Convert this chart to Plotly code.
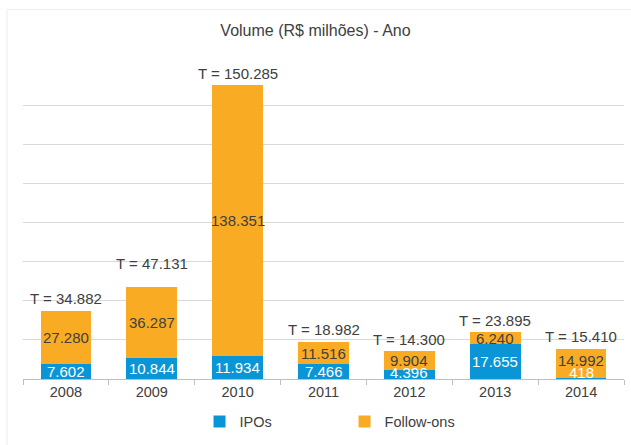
import plotly.graph_objects as go

anos = ["2008", "2009", "2010", "2011", "2012", "2013", "2014"]
ipos = [7602, 10844, 11934, 7466, 4396, 17655, 418]
follow_ons = [27280, 36287, 138351, 11516, 9904, 6240, 14992]
totais = [34882, 47131, 150285, 18982, 14300, 23895, 15410]

BLUE = "#0A96D6"
ORANGE = "#F9AB24"
TXT = "#404040"
FONT = "Liberation Sans, Arial, sans-serif"


def fmt(v):
    return f"{v:,}".replace(",", ".")


fig = go.Figure()
fig.add_trace(go.Bar(x=anos, y=ipos, name="IPOs", marker=dict(color=BLUE, line=dict(width=0))))
fig.add_trace(go.Bar(x=anos, y=follow_ons, name="Follow-ons", marker=dict(color=ORANGE, line=dict(width=0))))

annotations = []
# extra lift (px) for total labels
total_lift = {"2009": 23}
for i, (a, ip, fo, t) in enumerate(zip(anos, ipos, follow_ons, totais)):
    ip_y = max(ip / 2, 3500)
    fo_y = max(ip + fo / 2, ip_y + 6000)
    annotations.append(dict(x=i, y=ip_y, text=fmt(ip), showarrow=False,
                            font=dict(color="white", size=15, family=FONT), yanchor="middle"))
    annotations.append(dict(x=i, y=fo_y, text=fmt(fo), showarrow=False,
                            font=dict(color=TXT, size=15, family=FONT), yanchor="middle"))
    annotations.append(dict(x=i, y=t, text="T = " + fmt(t), showarrow=False,
                            font=dict(color=TXT, size=15, family=FONT), yanchor="middle",
                            yshift=total_lift.get(a, 12)))

fig.update_layout(
    width=631, height=445,
    margin=dict(l=23, r=7, t=66, b=63),
    paper_bgcolor="white", plot_bgcolor="white",
    barmode="stack", bargap=0.41,
    title=dict(text="Volume (R$ milhões) - Ano", x=0.5, xanchor="center", y=1 - 30 / 445, yanchor="middle",
               font=dict(size=16, color=TXT, family=FONT)),
    font=dict(family=FONT, color=TXT, size=14),
    showlegend=True,
    legend=dict(orientation="h", x=0.535, xanchor="center", y=-0.136, yanchor="middle",
                font=dict(size=14.5, color=TXT, family=FONT), entrywidth=100, traceorder="normal"),
    annotations=annotations,
    shapes=[dict(type="rect", xref="paper", yref="paper", x0=(7 - 23) / 601, x1=1.1,
                 y0=-0.3, y1=(382 - 9) / 316, line=dict(color="#ececec", width=1), layer="below")],
)
fig.update_xaxes(type="category", range=[-0.5, len(anos) - 0.5], showline=True, linecolor="#bfbfbf",
                 linewidth=1, ticks="outside", tickson="boundaries", ticklen=5, tickcolor="#bfbfbf",
                 tickfont=dict(size=14.5, color=TXT, family=FONT), showgrid=False)
fig.update_yaxes(range=[0, 160000], dtick=20000, showticklabels=False, gridcolor="#d9d9d9",
                 gridwidth=1, zeroline=False)

fig.write_html("out.html", config={"displayModeBar": False},
               post_script="document.body.style.margin='0';document.body.style.overflow='hidden';")
